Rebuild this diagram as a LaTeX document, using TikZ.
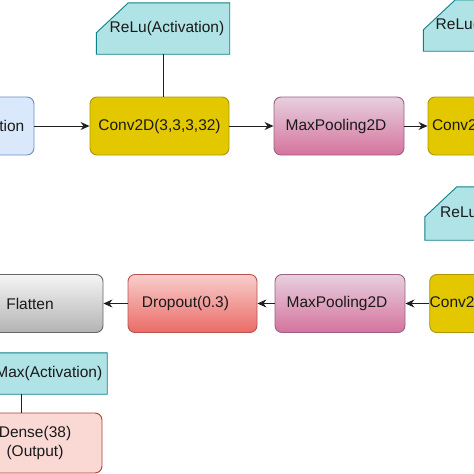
\documentclass[tikz,border=0pt]{standalone}
\usepackage{fontspec}
\setmainfont{Liberation Sans}
\usetikzlibrary{arrows.meta,calc,backgrounds}
\definecolor{txt}{HTML}{1A1A1A}
\definecolor{bluef}{HTML}{DAE8FC}\definecolor{blued}{HTML}{6C8EBF}
\definecolor{goldf}{HTML}{E3C800}\definecolor{goldd}{HTML}{B09500}
\definecolor{cyanf}{HTML}{B0E3E6}\definecolor{cyand}{HTML}{0E8088}
\definecolor{pinkt}{HTML}{E6D0DE}\definecolor{pinkb}{HTML}{D5739D}\definecolor{pinkd}{HTML}{996185}
\definecolor{redt}{HTML}{F8CECC}\definecolor{redb}{HTML}{EA6B66}\definecolor{redd}{HTML}{B85450}
\definecolor{greyt}{HTML}{F5F5F5}\definecolor{greyb}{HTML}{B3B3B3}\definecolor{greyd}{HTML}{666666}
\definecolor{densef}{HTML}{FAD9D5}\definecolor{densed}{HTML}{AE4132}
\definecolor{conn}{HTML}{1F1F1F}
\newcommand\cardbox[1]{%
  \filldraw[fill=cyanf,draw=cyand,line width=0.9pt]
    ($(#1.north west)+(32,0)$) -- (#1.north east) -- (#1.south east)
    -- (#1.south west) -- ($(#1.north west)+(0,30)$) -- cycle;}
\begin{document}
\begin{tikzpicture}[x=1pt,y=-1pt,
  lbl/.style={inner sep=0pt,font=\fontsize{15.5}{19}\selectfont,text=txt},
  blk/.style={lbl,rectangle,rounded corners=7pt,line width=0.9pt,minimum height=58pt},
  bluebox/.style={blk,fill=bluef,draw=blued},
  goldbox/.style={blk,fill=goldf,draw=goldd},
  pinkbox/.style={blk,top color=pinkt,bottom color=pinkb,draw=pinkd},
  redbox/.style={blk,top color=redt,bottom color=redb,draw=redd},
  greybox/.style={blk,top color=greyt,bottom color=greyb,draw=greyd},
  densebox/.style={blk,fill=densef,draw=densed,minimum height=60pt,align=center},
  card/.style={lbl,rectangle,minimum height=51pt},
  arr/.style={draw=conn,line width=0.9pt,-{Stealth[length=9pt,width=8pt,inset=3pt]}},
  link/.style={draw=conn,line width=0.9pt}]
\useasboundingbox (0,0) rectangle (474,474);
\clip (0,0) rectangle (474,474);
% row 1
\node[bluebox,minimum width=114pt] (norm) at (-23,126) {Normalization};
\node[goldbox,minimum width=139pt] (conv1) at (159.5,126) {Conv2D(3,3,3,32)};
\node[pinkbox,minimum width=130pt] (pool1) at (339,126) {MaxPooling2D\hspace*{6pt}};
\node[goldbox,minimum width=139pt] (conv2) at (497.5,126) {Conv2D(3,3,32,64)};
\node[card,minimum width=133pt] (relu1) at (163,28.5) {\hspace*{8pt}ReLu(Activation)};
\node[card,minimum width=133pt] (relu2) at (490,25.5) {\hspace*{6pt}ReLu(Activation)};
% row 2
\node[goldbox,minimum width=139pt] (conv3) at (499.5,303.5) {Conv2D(3,3,64,128)};
\node[card,minimum width=133pt,minimum height=53pt] (relu3) at (491.5,213.5) {\hspace*{12pt}ReLu(Activation)};
\node[pinkbox,minimum width=130pt] (pool2) at (340,303.5) {MaxPooling2D\hspace*{6pt}};
\node[redbox,minimum width=129pt] (drop) at (192.5,303.5) {Dropout(0.3)\hspace*{14pt}};
\node[greybox,minimum width=146pt] (flat) at (30,303.5) {Flatten};
% row 3
\node[card,minimum width=144pt,minimum height=41pt] (soft) at (35,373.5) {SoftMax(Activation)};
\node[densebox,minimum width=134pt] (dense) at (35,443) {Dense(38)\\(Output)};
\begin{scope}[on background layer]
  \clip (0,0) rectangle (474,474);
  \cardbox{relu1}\cardbox{relu2}\cardbox{relu3}\cardbox{soft}
\end{scope}
% connectors
\draw[arr] (norm) -- (conv1);
\draw[arr] (conv1) -- (pool1);
\draw[arr] (pool1) -- (conv2);
\draw[link] (relu1.south) -- (relu1.south |- conv1.north);
\draw[link] (relu2.south) -- (relu2.south |- conv2.north);
\draw[link] (relu3.south) -- (relu3.south |- conv3.north);
\draw[arr] (conv3) -- (pool2);
\draw[arr] (pool2) -- (drop);
\draw[arr] (drop) -- (flat);
\draw[link] (21,394) coordinate (s1) -- (21,413) coordinate (d1);
\end{tikzpicture}
\end{document}
